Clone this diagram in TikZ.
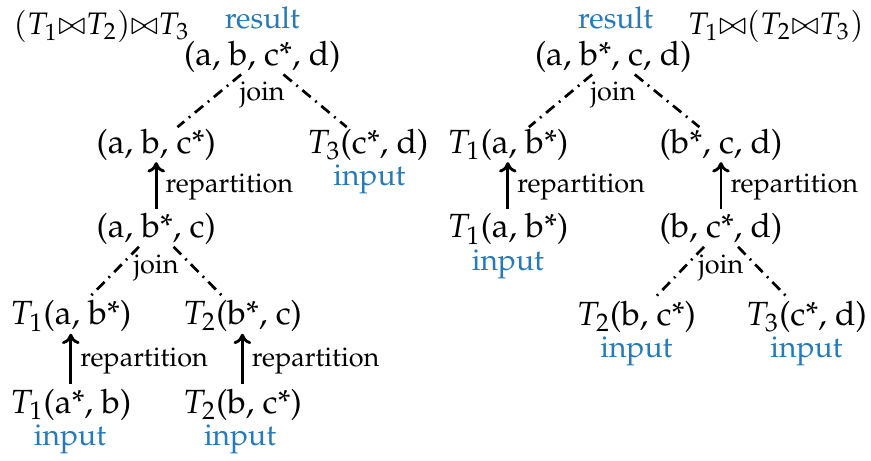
\documentclass[tikz,border=0pt]{standalone}
\usepackage[T1]{fontenc}
\usepackage{mathpazo}
\usetikzlibrary{arrows.meta}
\definecolor{tagblue}{RGB}{38,122,186}
\begin{document}
\begin{tikzpicture}[
  rel/.style={inner sep=0.5pt,font=\fontsize{12.4}{15}\selectfont},
  plan/.style={inner sep=0pt,font=\fontsize{11.5}{14}\selectfont},
  tag/.style={text=tagblue,inner sep=0pt,font=\fontsize{11.1}{13}\selectfont},
  op/.style={inner sep=1pt,font=\fontsize{10}{12}\selectfont},
  joinline/.style={line width=1pt,dash pattern=on 4pt off 2.2pt on 0.7pt off 2.2pt},
  shuffle/.style={line width=1.05pt,-{To[length=3.8pt,width=6.5pt]},shorten <=1.2pt}
]
  \useasboundingbox (0,0) rectangle (11.32,5.98);
  % Left: (T1 join T2) join T3
  \node[plan] (titleL) at (1.32,5.64) {$(T_1{\bowtie}T_2){\bowtie}T_3$};
  \node[tag] (resL) at (3.41,5.75) {result};
  \node[rel] (topL) at (3.41,5.24) {(a, b, c*, d)};
  \node[op] (joinA) at (3.41,4.75) {join};
  \node[rel] (midL) at (2.03,4.10) {(a, b, c*)};
  \node[rel] (thrL) at (4.78,4.10) {$T_3$(c*, d)};
  \node[tag] (inThrL) at (4.80,3.65) {input};
  \node[rel] (botL) at (2.03,3.00) {(a, b*, c)};
  \node[op] (joinB) at (2.03,2.50) {join};
  \node[rel] (oneL) at (0.92,1.87) {$T_1$(a, b*)};
  \node[rel] (twoL) at (3.15,1.87) {$T_2$(b*, c)};
  \node[rel] (oneInL) at (0.92,0.72) {$T_1$(a*, b)};
  \node[rel] (twoInL) at (3.15,0.72) {$T_2$(b, c*)};
  \node[tag] (inOneL) at (0.91,0.27) {input};
  \node[tag] (inTwoL) at (3.12,0.27) {input};
  \draw[joinline] (topL) -- (midL);
  \draw[joinline] (topL) -- (thrL);
  \draw[joinline] (botL) -- (oneL);
  \draw[joinline] (botL) -- (twoL);
  \draw[shuffle] (botL) -- node[op,right,xshift=2pt] {repartition} (midL);
  \draw[shuffle] (oneInL) -- node[op,right,xshift=2pt] {repartition} (oneL);
  \draw[shuffle] (twoInL) -- node[op,right,xshift=2pt] {repartition} (twoL);
  % Right: T1 join (T2 join T3)
  \node[tag] (resR) at (8.00,5.75) {result};
  \node[plan] (titleR) at (10.08,5.64) {$T_1{\bowtie}(T_2{\bowtie}T_3)$};
  \node[rel] (topR) at (7.97,5.24) {(a, b*, c, d)};
  \node[op] (joinC) at (7.97,4.75) {join};
  \node[rel] (oneR) at (6.60,4.10) {$T_1$(a, b*)};
  \node[rel] (midR) at (9.37,4.10) {(b*, c, d)};
  \node[rel] (oneInR) at (6.60,3.00) {$T_1$(a, b*)};
  \node[tag] (inOneR) at (6.60,2.55) {input};
  \node[rel] (botR) at (9.37,3.00) {(b, c*, d)};
  \node[op] (joinD) at (9.37,2.50) {join};
  \node[rel] (twoR) at (8.27,1.86) {$T_2$(b, c*)};
  \node[rel] (thrR) at (10.48,1.86) {$T_3$(c*, d)};
  \node[tag] (inTwoR) at (8.27,1.41) {input};
  \node[tag] (inThrR) at (10.48,1.41) {input};
  \draw[joinline] (topR) -- (oneR);
  \draw[joinline] (topR) -- (midR);
  \draw[joinline] (botR) -- (twoR);
  \draw[joinline] (botR) -- (thrR);
  \draw[shuffle] (oneInR) -- node[op,right,xshift=2pt] {repartition} (oneR);
  \draw[shuffle] (botR) -- node[op,right,xshift=2pt] {repartition} (midR);
\end{tikzpicture}
\end{document}
